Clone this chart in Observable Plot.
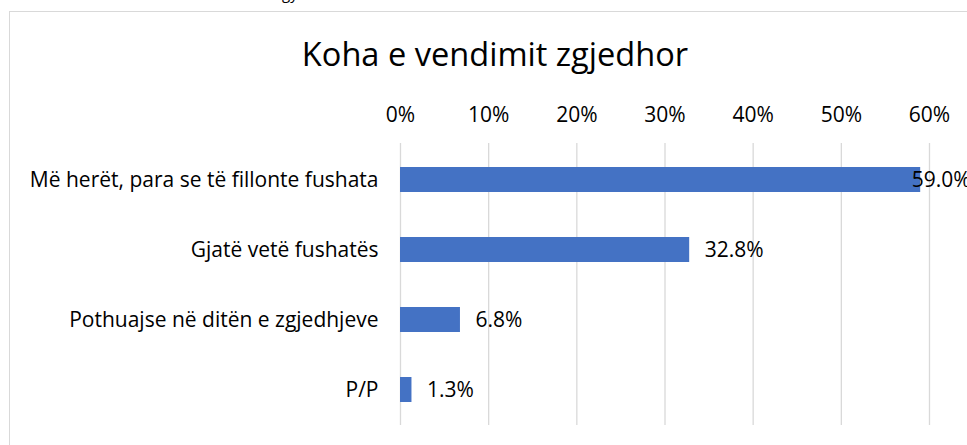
<!DOCTYPE html>
<html>
<head>
<meta charset="utf-8">
<script src="https://cdn.jsdelivr.net/npm/d3@7"></script>
<script src="https://cdn.jsdelivr.net/npm/@observablehq/plot@0.6"></script>
<style>
  html, body { margin: 0; padding: 0; background: #fff; }
  body { width: 967px; height: 445px; overflow: hidden; position: relative; font-family: "Open Sans", sans-serif; }
  #frame { position: absolute; left: 9px; top: 11px; width: 985px; height: 470px; border: 1px solid #d9d9d9; box-sizing: border-box; }
  #title { position: absolute; left: 0; width: 990px; top: 38px; text-align: center; font-size: 32.6px; line-height: 1; color: #000; white-space: nowrap; }
  #frag { position: absolute; left: 282px; top: -14px; font-size: 15px; line-height: 1; color: #000; }
  #chart { position: absolute; left: 0; top: 0; }
  #chart svg { overflow: visible; }
</style>
</head>
<body>
<div id="frag">gy</div>
<div id="frame"></div>
<div id="title">Koha e vendimit zgjedhor</div>
<div id="chart"></div>
<script>
const categories = [
  "Më herët, para se të fillonte fushata",
  "Gjatë vetë fushatës",
  "Pothuajse në ditën e zgjedhjeve",
  "P/P"
];
const values = [59.0, 32.8, 6.8, 1.3];
const valueLabels = ["59.0%", "32.8%", "6.8%", "1.3%"];
const xTicks = [0, 10, 20, 30, 40, 50, 60];
const xTickLabels = ["0%", "10%", "20%", "30%", "40%", "50%", "60%"];

const data = categories.map((c, i) => ({category: c, value: values[i], label: valueLabels[i], i}));
const fits = data.filter(d => d.i !== 0);
const shifted = data.filter(d => d.i === 0);

const chart = Plot.plot({
  width: 967,
  height: 445,
  marginLeft: 400,
  marginRight: 38,
  marginTop: 143,
  marginBottom: 20,
  style: {fontFamily: "'Open Sans', sans-serif", fontSize: "21px", color: "#000", background: "transparent"},
  x: {domain: [0, 60], ticks: xTicks, tickFormat: (d, k) => xTickLabels[k], axis: "top", tickSize: 0, tickPadding: 22, label: null},
  y: {domain: categories, paddingInner: 0.65, paddingOuter: 0.325, axis: "left", tickSize: 0, tickPadding: 22, label: null},
  marks: [
    Plot.gridX(xTicks, {stroke: "#d9d9d9", strokeOpacity: 1, strokeWidth: 1.3}),
    Plot.barX(data, {x: "value", y: "category", fill: "#4472C4"}),
    Plot.text(fits, {x: "value", y: "category", text: "label", textAnchor: "start", dx: 15, fill: "#000", fontSize: 21}),
    Plot.text(shifted, {x: "value", y: "category", text: "label", textAnchor: "start", dx: -9, fill: "#000", fontSize: 21})
  ]
});
document.getElementById("chart").appendChild(chart);
</script>
</body>
</html>
